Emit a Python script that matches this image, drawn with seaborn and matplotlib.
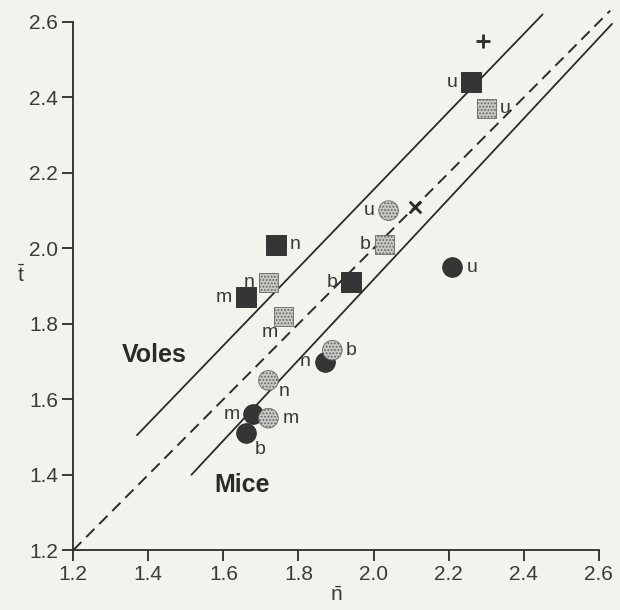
import matplotlib
matplotlib.use('Agg')
import matplotlib.pyplot as plt
import seaborn as sns
import pandas as pd

# ---- data ----
n_vals = [2.26, 2.30, 2.03, 1.94, 1.74, 1.72, 1.66, 1.76,
          2.04, 2.21, 1.89, 1.87, 1.72, 1.68, 1.72, 1.66]
t_vals = [2.44, 2.37, 2.01, 1.91, 2.01, 1.91, 1.87, 1.82,
          2.10, 1.95, 1.73, 1.70, 1.65, 1.56, 1.55, 1.51]
letters = ['u', 'u', 'b', 'b', 'n', 'n', 'm', 'm',
           'u', 'u', 'b', 'n', 'n', 'm', 'm', 'b']
animal = ['vole'] * 8 + ['mouse'] * 8
shade = ['dark', 'light', 'light', 'dark', 'dark', 'light', 'dark', 'light',
         'light', 'dark', 'light', 'dark', 'light', 'dark', 'light', 'dark']
label_side = ['left', 'right', 'left', 'left', 'right', 'left', 'left', 'belowleft',
              'left', 'right', 'right', 'left', 'rightbelow', 'left', 'right', 'belowright']

plus_pt = (2.29, 2.55)
cross_pt = (2.11, 2.11)

voles_line_n = [1.37, 2.45]
voles_line_t = [1.505, 2.62]
mice_line_n = [1.515, 2.635]
mice_line_t = [1.40, 2.595]
ident_line = [1.2, 2.63]

ticks = [1.2, 1.4, 1.6, 1.8, 2.0, 2.2, 2.4, 2.6]
tick_labels = ['1.2', '1.4', '1.6', '1.8', '2.0', '2.2', '2.4', '2.6']

df = pd.DataFrame({'n': n_vals, 't': t_vals, 'letter': letters,
                   'animal': animal, 'shade': shade, 'side': label_side})

# ---- style ----
sns.set_theme(style='ticks')
plt.rcParams['font.family'] = ['Liberation Sans', 'DejaVu Sans']
plt.rcParams['hatch.linewidth'] = 0.9
plt.rcParams['hatch.color'] = '#555555'
ink = '#2b2b2b'
bg = '#f3f2ec'

fig = plt.figure(figsize=(6.2, 6.1), dpi=100, facecolor=bg)
ax = fig.add_axes([0.118, 0.098, 0.848, 0.866])
ax.set_facecolor(bg)

# lines
sns.lineplot(x=voles_line_n, y=voles_line_t, ax=ax, color=ink, lw=1.3, clip_on=False)
sns.lineplot(x=mice_line_n, y=mice_line_t, ax=ax, color=ink, lw=1.3, clip_on=False)
sns.lineplot(x=ident_line, y=ident_line, ax=ax, color=ink, lw=1.4,
             linestyle=(0, (6, 3.5)), clip_on=False)

# points
styles = {
    ('vole', 'dark'): dict(marker='s', s=190, color='#353535', edgecolor='#262626'),
    ('vole', 'light'): dict(marker='s', s=190, color='#c9c9c5', edgecolor='#666666', hatch='.....'),
    ('mouse', 'dark'): dict(marker='o', s=200, color='#353535', edgecolor='#262626'),
    ('mouse', 'light'): dict(marker='o', s=200, color='#c9c9c5', edgecolor='#666666', hatch='.....'),
}
for (a, s_), kw in styles.items():
    sub = df[(df.animal == a) & (df.shade == s_)]
    sns.scatterplot(data=sub, x='n', y='t', ax=ax, linewidth=0.6, zorder=3, **kw)

offsets = {
    'left': ((-10, 0), 'right', 'center'),
    'right': ((10, 0), 'left', 'center'),
    'belowleft': ((-10, -12), 'center', 'center'),
    'rightbelow': ((11, -8), 'center', 'center'),
    'belowright': ((10, -12), 'center', 'center'),
}
for _, r in df.iterrows():
    off, ha, va = offsets[r.side]
    ax.annotate(r.letter, (r.n, r.t), xytext=off, textcoords='offset points',
                ha=ha, va=va, fontsize=14, color='#3a3a3a')

ax.scatter([plus_pt[0]], [plus_pt[1]], marker='+', s=110, color=ink, linewidths=2, zorder=3)
ax.scatter([cross_pt[0]], [cross_pt[1]], marker='x', s=70, color=ink, linewidths=2, zorder=3)

ax.text(1.415, 1.718, 'Voles', fontsize=18, fontweight='bold', color=ink, ha='center', va='center')
ax.text(1.65, 1.373, 'Mice', fontsize=18, fontweight='bold', color=ink, ha='center', va='center')

# axes
ax.set_xlim(1.2, 2.6)
ax.set_ylim(1.2, 2.6)
ax.set_xticks(ticks)
ax.set_xticklabels(tick_labels)
ax.set_yticks(ticks)
ax.set_yticklabels(tick_labels)
ax.tick_params(axis='both', direction='out', length=8, width=1.3, colors=ink,
               labelsize=15, labelcolor='#3a3a3a', pad=3)
for sp in ['top', 'right']:
    ax.spines[sp].set_visible(False)
for sp in ['left', 'bottom']:
    ax.spines[sp].set_color(ink)
    ax.spines[sp].set_linewidth(1.3)

ax.set_xlabel(r'$\mathregular{\bar{n}}$', fontsize=15, color='#3a3a3a', labelpad=1)
ax.set_ylabel(r'$\mathregular{\bar{t}}$', fontsize=15, color='#3a3a3a', rotation=0,
              labelpad=6)
ax.yaxis.set_label_coords(-0.1, 0.5)

fig.savefig('out.png', dpi=100, facecolor=bg)
